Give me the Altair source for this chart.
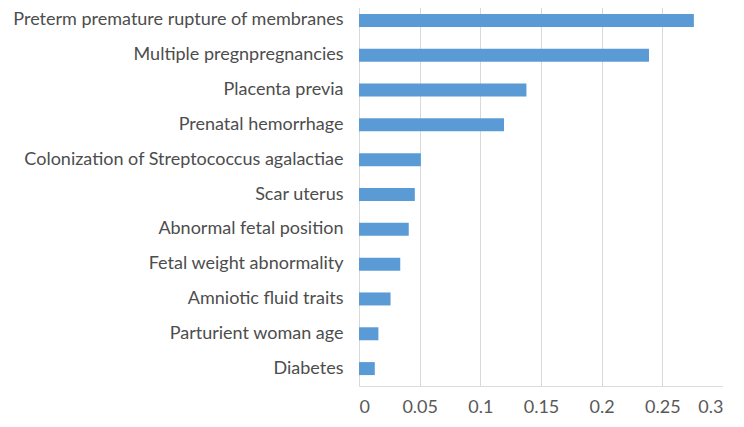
import altair as alt
import pandas as pd

factors = [
    "Preterm premature rupture of membranes",
    "Multiple pregnpregnancies",
    "Placenta previa",
    "Prenatal hemorrhage",
    "Colonization of Streptococcus agalactiae",
    "Scar uterus",
    "Abnormal fetal position",
    "Fetal weight abnormality",
    "Amniotic fluid traits",
    "Parturient woman age",
    "Diabetes",
]
importance = [0.276, 0.239, 0.138, 0.1195, 0.051, 0.046, 0.041, 0.034, 0.026, 0.016, 0.013]
x_ticks = [0, 0.05, 0.1, 0.15, 0.2, 0.25, 0.3]

df = pd.DataFrame({"factor": factors, "value": importance})

chart = (
    alt.Chart(df)
    .mark_bar(color="#5B9BD5", size=13)
    .encode(
        x=alt.X(
            "value:Q",
            scale=alt.Scale(domain=[0, 0.3], nice=False),
            axis=alt.Axis(
                values=x_ticks,
                title=None,
                domain=False,
                ticks=False,
                grid=True,
                gridColor="#D9D9D9",
                gridWidth=1,
                labelFont="Lato",
                labelFontSize=18,
                labelColor="#595959",
                labelPadding=12,
                labelExpr="datum.value",
            ),
        ),
        y=alt.Y(
            "factor:N",
            sort=factors,
            scale=alt.Scale(paddingInner=0.0, paddingOuter=0.0),
            axis=alt.Axis(
                title=None,
                domain=False,
                ticks=False,
                grid=False,
                labelFont="Lato",
                labelFontSize=18,
                labelColor="#4D4D4D",
                labelPadding=16,
                labelLimit=400,
            ),
        ),
    )
    .properties(
        width=364,
        height=383,
        autosize=alt.AutoSizeParams(type="none"),
        padding={"left": 351, "top": -5, "right": 0, "bottom": 40},
    )
    .configure_view(stroke=None)
    .configure(background="white")
)

chart.save("out.html", embed_options={"renderer": "svg", "actions": False})
